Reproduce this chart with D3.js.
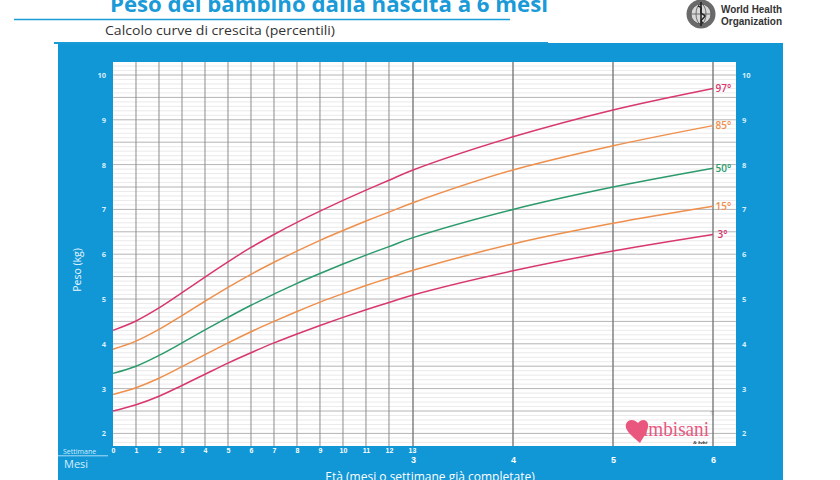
<!DOCTYPE html>
<html><head><meta charset="utf-8">
<script src="https://cdn.jsdelivr.net/npm/d3@7"></script>
<style>body{margin:0;background:#fff;} svg{display:block;font-family:"Open Sans","Noto Sans",sans-serif}</style>
</head><body><svg id="c" width="840" height="480"></svg>
<script>
// ---- data ----
const weekTicks = d3.range(0, 14);          // settimane 0..13
const monthTicks = [3, 4, 5, 6];            // mesi
const kgTicks = [2, 3, 4, 5, 6, 7, 8, 9, 10];
const weeksData = d3.range(0, 13);          // weekly points 0..12
const monthsData = [3, 4, 5, 6];            // monthly points
const percentileLabels = ["97°", "85°", "50°", "15°", "3°"];
const p97Weeks = [4.30, 4.51, 4.80, 5.14, 5.49, 5.83, 6.15, 6.44, 6.71, 6.96, 7.20, 7.43, 7.65];
const p85Weeks = [3.88, 4.06, 4.32, 4.63, 4.95, 5.26, 5.55, 5.82, 6.07, 6.31, 6.53, 6.74, 6.94];
const p50Weeks = [3.34, 3.50, 3.74, 4.02, 4.31, 4.59, 4.86, 5.11, 5.35, 5.57, 5.78, 5.98, 6.17];
const p15Weeks = [2.87, 3.02, 3.23, 3.49, 3.76, 4.02, 4.27, 4.50, 4.72, 4.93, 5.12, 5.30, 5.47];
const p3Weeks  = [2.50, 2.64, 2.83, 3.07, 3.32, 3.57, 3.80, 4.02, 4.22, 4.41, 4.59, 4.76, 4.92];
const p97Months = [7.88, 8.62, 9.22, 9.70];
const p85Months = [7.15, 7.88, 8.42, 8.87];
const p50Months = [6.37, 7.00, 7.50, 7.92];
const p15Months = [5.64, 6.23, 6.69, 7.07];
const p3Months  = [5.09, 5.63, 6.07, 6.44];

const colRed = "#d8386f", colOrange = "#ef8f4c", colGreen = "#2b9a6c";
const series = [
  {label: percentileLabels[0], w: p97Weeks, m: p97Months, color: colRed},
  {label: percentileLabels[1], w: p85Weeks, m: p85Months, color: colOrange},
  {label: percentileLabels[2], w: p50Weeks, m: p50Months, color: colGreen},
  {label: percentileLabels[3], w: p15Weeks, m: p15Months, color: colOrange},
  {label: percentileLabels[4], w: p3Weeks,  m: p3Months,  color: colRed}
];

const svg = d3.select("#c");
const blue = "#1196d6";
const weekToMonth = w => w * 7 / 30.4375;

// scales
const x = d3.scaleLinear().domain([0, 6]).range([113, 713]);
const y = d3.scaleLinear().domain([2, 10]).range([433.4, 75]);
const plotL = 113, plotR = 736, plotT = 62, plotB = 446;

// header
svg.append("text").attr("x", 110).attr("y", 12).attr("font-size", 21).attr("font-weight", 700)
  .attr("fill", "#1a9ad7").attr("textLength", 438).attr("lengthAdjust", "spacingAndGlyphs")
  .text("Peso del bambino dalla nascita a 6 mesi");
svg.append("line").attr("x1", 14).attr("x2", 510).attr("y1", 19.5).attr("y2", 19.5)
  .attr("stroke", "#1a9ad7").attr("stroke-width", 1.3);
svg.append("text").attr("x", 105).attr("y", 35).attr("font-size", 13).attr("fill", "#333")
  .attr("textLength", 230).attr("lengthAdjust", "spacingAndGlyphs")
  .text("Calcolo curve di crescita (percentili)");

// WHO logo
const who = svg.append("g").attr("transform", "translate(701,14)");
who.append("circle").attr("r", 14.5).attr("fill", "#6a6a6a");
who.append("circle").attr("r", 10).attr("fill", "#d8d8d8");
who.append("circle").attr("r", 10).attr("fill", "none").attr("stroke", "#555").attr("stroke-width", 0.8);
who.append("ellipse").attr("rx", 5).attr("ry", 10).attr("fill", "none").attr("stroke", "#555").attr("stroke-width", 0.8);
who.append("line").attr("x1", -10).attr("x2", 10).attr("stroke", "#555").attr("stroke-width", 0.8);
who.append("line").attr("y1", -12).attr("y2", 12).attr("stroke", "#222").attr("stroke-width", 1.6);
who.append("path").attr("d", "M-3,-8 C5,-6 -5,-2 3,1 C7,3 -4,6 2,9").attr("fill", "none").attr("stroke", "#222").attr("stroke-width", 1.5);
svg.append("text").attr("x", 721).attr("y", 13).attr("font-size", 11.5).attr("font-weight", 700)
  .attr("fill", "#333").attr("font-family", "Liberation Sans, Arial, sans-serif")
  .attr("textLength", 61).attr("lengthAdjust", "spacingAndGlyphs").text("World Health");
svg.append("text").attr("x", 721).attr("y", 24.5).attr("font-size", 11.5).attr("font-weight", 700)
  .attr("fill", "#333").attr("font-family", "Liberation Sans, Arial, sans-serif")
  .attr("textLength", 61).attr("lengthAdjust", "spacingAndGlyphs").text("Organization");

// blue panel
svg.append("rect").attr("x", 58).attr("y", 43).attr("width", 725).attr("height", 440).attr("fill", blue);
svg.append("line").attr("x1", 54).attr("x2", 548).attr("y1", 43).attr("y2", 43)
  .attr("stroke", "#1a9ad7").attr("stroke-width", 2);

// plot area
svg.append("rect").attr("x", plotL).attr("y", plotT).attr("width", plotR - plotL).attr("height", plotB - plotT).attr("fill", "#fff");

const grid = svg.append("g");
const yMin = y.invert(plotB), yMax = y.invert(plotT);
const minor = d3.range(Math.ceil(yMin * 10), Math.floor(yMax * 10) + 1).map(v => v / 10);
grid.selectAll(".mn").data(minor.filter(v => Math.abs(v * 2 - Math.round(v * 2)) > 1e-6)).join("line")
  .attr("x1", plotL).attr("x2", plotR).attr("y1", d => y(d)).attr("y2", d => y(d))
  .attr("stroke", "#e4e4e4").attr("stroke-width", 0.8);
const major = d3.range(4, 21).map(v => v / 2);
grid.selectAll(".mj").data(major).join("line")
  .attr("x1", plotL).attr("x2", plotR).attr("y1", d => y(d)).attr("y2", d => y(d))
  .attr("stroke", "#b4b4b4").attr("stroke-width", 1);
grid.selectAll(".wk").data(weekTicks.slice(1, 13)).join("line")
  .attr("x1", d => x(weekToMonth(d))).attr("x2", d => x(weekToMonth(d)))
  .attr("y1", plotT).attr("y2", plotB).attr("stroke", "#8c8c8c").attr("stroke-width", 1);
grid.selectAll(".mo").data(monthTicks).join("line")
  .attr("x1", d => x(d)).attr("x2", d => x(d))
  .attr("y1", plotT).attr("y2", plotB).attr("stroke", "#7a7a7a").attr("stroke-width", 1.4);

// curves
const line = d3.line().x(d => x(d[0])).y(d => y(d[1])).curve(d3.curveCatmullRom.alpha(0.5));
series.forEach(s => {
  const pts = weeksData.map((w, i) => [weekToMonth(w), s.w[i]])
    .concat(monthsData.map((m, i) => [m, s.m[i]]));
  svg.append("path").datum(pts).attr("d", line).attr("fill", "none")
    .attr("stroke", s.color).attr("stroke-width", 1.5);
  svg.append("text").attr("x", x(6) + (s.label.length < 3 ? 4.5 : 2.5)).attr("y", y(s.m[s.m.length - 1]))
    .attr("dy", "0.35em").attr("font-size", 10).attr("font-weight", 600).attr("fill", s.color).text(s.label);
});

// y axes labels
const tickCol = "#d6efff";
const yAxisL = svg.append("g").attr("transform", "translate(106,0)")
  .call(d3.axisLeft(y).tickValues(kgTicks).tickSize(0).tickPadding(0));
const yAxisR = svg.append("g").attr("transform", "translate(742,0)")
  .call(d3.axisRight(y).tickValues(kgTicks).tickSize(0).tickPadding(0));
[yAxisL, yAxisR].forEach(a => {
  a.select(".domain").remove();
  a.selectAll("text").attr("fill", tickCol).attr("font-size", 7.5).attr("font-weight", 700)
    .attr("font-family", "Open Sans, sans-serif");
});
svg.append("text").attr("transform", "translate(81,270) rotate(-90)").attr("text-anchor", "middle")
  .attr("font-size", 10.5).attr("fill", "#e8f6ff").text("Peso (kg)");

// bottom axes
const xWeek = svg.append("g").attr("transform", `translate(0,${plotB})`)
  .call(d3.axisBottom(d3.scaleLinear().domain([0, 13]).range([x(0), x(weekToMonth(13))]))
    .tickValues(weekTicks).tickSize(0).tickPadding(2).tickFormat(d3.format("d")));
xWeek.select(".domain").remove();
xWeek.selectAll("text").attr("fill", "#fff").attr("font-size", 7).attr("font-weight", 700);
const xMonth = svg.append("g").attr("transform", `translate(0,${plotB + 11})`)
  .call(d3.axisBottom(x).tickValues(monthTicks).tickSize(0).tickPadding(0).tickFormat(d3.format("d")));
xMonth.select(".domain").remove();
xMonth.selectAll("text").attr("fill", "#fff").attr("font-size", 9).attr("font-weight", 700);

svg.append("text").attr("x", 63).attr("y", 453.5).attr("font-size", 7).attr("fill", "#d6efff").text("Settimane");
svg.append("line").attr("x1", 58).attr("x2", 108).attr("y1", 455.8).attr("y2", 455.8)
  .attr("stroke", "#d6efff").attr("stroke-width", 0.8);
svg.append("text").attr("x", 64).attr("y", 468).attr("font-size", 11).attr("fill", "#d6efff").text("Mesi");
svg.append("text").attr("x", 430).attr("y", 481).attr("text-anchor", "middle").attr("font-size", 12)
  .attr("fill", "#fff").text("Età (mesi o settimane già completate)");

// bimbisani logo
const lg = svg.append("g");
lg.append("path").attr("d", "M640,443 C632,436 624,430 626,424 C628,419 634,419 638,423 C641,419 647,419 648,424 C649,430 644,436 640,443 Z")
  .attr("fill", "#e9577f");
lg.append("text").attr("x", 643).attr("y", 436).attr("font-family", "Liberation Serif, serif").attr("font-size", 22)
  .attr("fill", "#e9577f").attr("textLength", 66).attr("lengthAdjust", "spacingAndGlyphs").text("imbisani");
lg.append("text").attr("x", 693).attr("y", 443.5).attr("font-family", "Liberation Serif, serif").attr("font-size", 5)
  .attr("font-style", "italic").attr("font-weight", 700).attr("fill", "#222").text("& bebè");
lg.append("text").attr("x", 710).attr("y", 415).attr("font-size", 5).attr("fill", "#333").text("♡");
</script></body></html>
